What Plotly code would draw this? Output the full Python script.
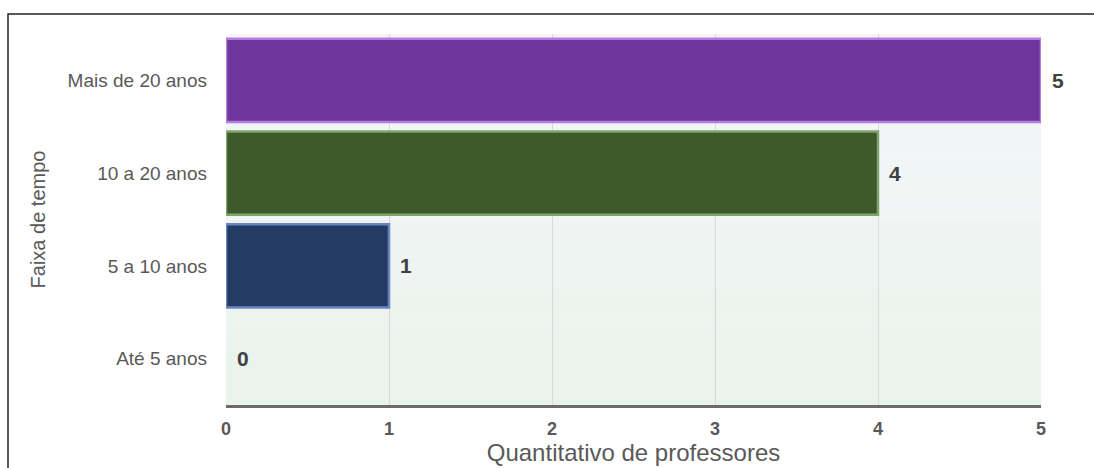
import plotly.graph_objects as go

categories = ["Até 5 anos", "5 a 10 anos", "10 a 20 anos", "Mais de 20 anos"]
values = [0, 1, 4, 5]
bar_colors = ["#243b66", "#243b66", "#3e5a2a", "#6f369d"]
edge_colors = ["#6a86c0", "#6a86c0", "#7fa56a", "#b57be0"]
x_ticks = [0, 1, 2, 3, 4, 5]

FONT = "Liberation Sans, Arial, sans-serif"

fig = go.Figure()
fig.add_trace(go.Bar(
    y=categories, x=values, orientation="h",
    marker=dict(color=bar_colors,
                line=dict(color=edge_colors, width=[0 if v == 0 else 2.5 for v in values])),
    width=0.9, hoverinfo="skip",
))

for c, v in zip(categories, values):
    fig.add_annotation(x=v, y=c, text=f"<b>{v}</b>", showarrow=False,
                       xanchor="left", xshift=9,
                       font=dict(family=FONT, size=21, color="#404040"))

# gradient plot background
n = 40
top = (244, 246, 250)
bot = (234, 243, 236)
for i in range(n):
    t = i / (n - 1)
    col = tuple(round(top[k] + (bot[k] - top[k]) * t) for k in range(3))
    fig.add_shape(type="rect", xref="x domain", yref="y domain",
                  x0=0, x1=1, y0=1 - (i + 1) / n, y1=1 - i / n,
                  fillcolor=f"rgb{col}", line=dict(width=0), layer="below")

# outer frame
fig.add_shape(type="rect", xref="paper", yref="paper",
              x0=(8 - 226) / 815, x1=1.2, y0=-0.4, y1=1 + (34 - 14) / 371,
              line=dict(color="#222222", width=1.5), fillcolor="rgba(0,0,0,0)")

fig.update_layout(
    width=1094, height=468,
    margin=dict(l=226, r=53, t=34, b=63),
    paper_bgcolor="white", plot_bgcolor="rgba(0,0,0,0)",
    showlegend=False, bargap=0.1,
    font=dict(family=FONT),
)
fig.update_xaxes(
    range=[0, 5], tickvals=x_ticks, ticktext=[f"<b>{t}</b>" for t in x_ticks],
    showgrid=True, gridcolor="#d9d9d9", gridwidth=1,
    showline=True, linecolor="#6b6b6b", linewidth=2.5,
    zeroline=False, tickfont=dict(family=FONT, size=18, color="#595959"),
    ticks="", ticklabelstandoff=6, automargin=False,
    title=dict(text="Quantitativo de professores", standoff=6,
               font=dict(family=FONT, size=24, color="#595959")),
)
fig.update_yaxes(
    categoryorder="array", categoryarray=categories,
    showgrid=False, showline=False, zeroline=False,
    tickfont=dict(family=FONT, size=19, color="#595959"), ticks="", ticklabelstandoff=18,
    automargin=False,
    title=dict(text="Faixa de tempo", standoff=16,
               font=dict(family=FONT, size=20, color="#595959")),
)

fig.write_html("out.html")
